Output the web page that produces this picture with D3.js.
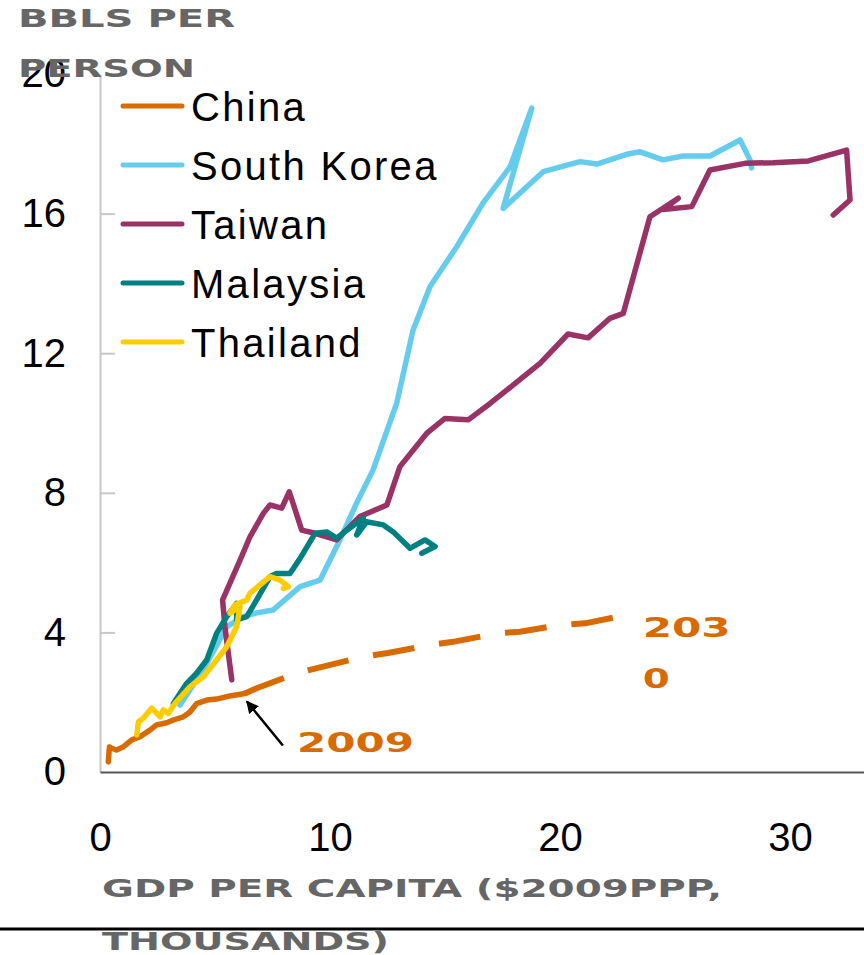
<!DOCTYPE html>
<html>
<head>
<meta charset="utf-8">
<script src="https://cdn.jsdelivr.net/npm/d3@7"></script>
<style>
  html, body { margin: 0; padding: 0; background: #fff; }
  svg { display: block; }
</style>
</head>
<body>
<div id="chart"></div>
<script>
// ---------- DATA (GDP per capita, $000 2009 PPP ; bbl per person) ----------
const seriesNames = ["China", "South Korea", "Taiwan", "Malaysia", "Thailand"];
const seriesColors = ["#D86A00", "#66CCEE", "#993366", "#008080", "#FFCC00"];

const chinaHist = [[0.36,0.29],[0.41,0.72],[0.51,0.68],[0.72,0.63],[1.01,0.72],[1.38,0.92],[1.74,1.01],[2.17,1.20],[2.46,1.35],[2.90,1.41],[3.19,1.49],[3.62,1.58],[3.91,1.72],[4.20,1.96],[4.64,2.06],[5.07,2.09],[5.65,2.18],[6.30,2.25]];
const chinaProj = [[6.30,2.25],[6.81,2.40],[8.55,2.83],[9.70,3.02],[11.43,3.30],[12.52,3.41],[14.35,3.64],[15.35,3.73],[17.25,3.97],[18.26,4.02],[20.00,4.21],[21.09,4.26],[22.90,4.50]];
const southKorea = [[3.48,1.92],[4.48,2.92],[5.13,3.70],[5.51,4.16],[6.22,4.45],[6.81,4.56],[7.52,4.64],[8.70,5.31],[9.57,5.50],[10.43,6.65],[11.16,7.71],[11.87,8.65],[12.90,10.57],[13.61,12.66],[14.35,13.91],[15.51,15.05],[16.65,16.30],[17.83,17.34],[18.77,19.02],[17.53,16.15],[19.27,17.20],[20.87,17.49],[21.60,17.42],[22.96,17.71],[23.48,17.77],[24.48,17.54],[25.35,17.65],[26.52,17.65],[27.83,18.11],[28.26,17.54],[28.33,17.31]];
const taiwan = [[5.73,2.64],[5.43,4.16],[5.33,4.93],[5.65,5.41],[6.09,6.07],[6.52,6.74],[7.10,7.41],[7.39,7.65],[7.90,7.56],[8.23,8.03],[8.77,6.93],[9.35,6.84],[10.29,6.65],[11.30,7.32],[12.47,7.65],[13.04,8.75],[14.20,9.70],[15.00,10.13],[16.01,10.09],[16.96,10.56],[17.97,11.09],[19.13,11.71],[20.35,12.55],[21.22,12.44],[22.17,13.00],[22.75,13.14],[23.91,15.91],[25.14,16.44],[24.49,16.12],[25.73,16.20],[26.52,17.25],[28.04,17.44],[29.27,17.46],[30.80,17.51],[32.46,17.82],[32.61,16.39],[31.88,15.96]];
const malaysia = [[3.19,1.96],[3.77,2.54],[4.20,2.83],[4.64,3.21],[5.07,3.97],[5.51,4.45],[5.94,4.83],[5.94,4.36],[6.38,4.45],[6.81,4.93],[7.39,5.60],[7.68,5.69],[8.26,5.69],[8.70,6.12],[9.35,6.84],[9.86,6.88],[10.29,6.70],[10.73,6.93],[11.45,7.27],[11.16,6.79],[11.59,7.17],[12.32,7.08],[12.75,6.88],[13.48,6.41],[14.13,6.65],[14.57,6.46],[13.99,6.27]];
const thailand = [[1.60,1.06],[1.67,1.44],[1.88,1.54],[2.25,1.83],[2.47,1.68],[2.61,1.58],[2.75,1.78],[2.97,1.68],[3.26,1.97],[3.91,2.44],[4.49,2.73],[5.07,3.21],[5.51,3.59],[5.94,4.16],[6.09,4.74],[5.65,4.55],[5.87,4.79],[6.38,4.93],[6.52,5.12],[7.39,5.60],[7.83,5.50],[8.19,5.31],[7.97,5.26]];

const yTicks = [0, 4, 8, 12, 16, 20];
const xTicks = [0, 10, 20, 30];
const yTitleLines = ["BBLS PER", "PERSON"];
const xTitleLines = ["GDP PER CAPITA ($2009PPP,", "THOUSANDS)"];
const startLabel = "2009";
const endLabelLines = ["203", "0"];
const annoStart = [6.3, 2.25];

// ---------- CHART ----------
const W = 864, H = 955;
const svg = d3.select("#chart").append("svg").attr("width", W).attr("height", H);

const x = d3.scaleLinear().domain([0, 33.2]).range([100, 863.6]);
const y = d3.scaleLinear().domain([0, 20]).range([772, 74]);

const numFont = "'Liberation Sans', Arial, sans-serif";
const blockFont = "'DejaVu Sans', 'Liberation Sans', sans-serif";

// y axis
const yAxis = d3.axisLeft(y).tickValues(yTicks).tickSize(-15).tickSizeOuter(0).tickPadding(34).tickFormat(d3.format("d"));
const gy = svg.append("g").attr("transform", `translate(${x(0)},0)`).call(yAxis);
gy.select(".domain").attr("stroke", "#c8c8c8").attr("stroke-width", 2);
gy.selectAll(".tick line").attr("stroke", "#c8c8c8").attr("stroke-width", 2)
  .attr("display", d => (d === 0 || d === 20) ? "none" : null);
gy.selectAll(".tick text").attr("font-family", numFont).attr("font-size", 40).attr("fill", "#000");

// x axis
const xAxis = d3.axisBottom(x).tickValues(xTicks).tickSize(0).tickSizeOuter(0).tickPadding(51).tickFormat(d3.format("d"));
const gx = svg.append("g").attr("transform", `translate(0,${y(0)})`).call(xAxis);
gx.select(".domain").attr("stroke", "#555").attr("stroke-width", 2.2);
gx.selectAll(".tick text").attr("font-family", numFont).attr("font-size", 40).attr("fill", "#000");

// lines
const line = d3.line().x(d => x(d[0])).y(d => y(d[1]));
const drawSeries = (data, color, dash) => {
  svg.append("path").datum(data).attr("d", line)
    .attr("fill", "none").attr("stroke", color).attr("stroke-width", dash ? 6 : 5.5)
    .attr("stroke-linejoin", "round").attr("stroke-linecap", dash ? "butt" : "round")
    .attr("stroke-dasharray", dash || null);
};
drawSeries(chinaHist, seriesColors[0]);
drawSeries(chinaProj, seriesColors[0], "42,25");
drawSeries(southKorea, seriesColors[1]);
drawSeries(taiwan, seriesColors[2]);
drawSeries(malaysia, seriesColors[3]);
drawSeries(thailand, seriesColors[4]);

// legend
const leg = svg.append("g");
seriesNames.forEach((name, i) => {
  const yy = 106 + i * 59;
  leg.append("line").attr("x1", 123).attr("x2", 182).attr("y1", yy).attr("y2", yy)
    .attr("stroke", seriesColors[i]).attr("stroke-width", 5).attr("stroke-linecap", "round");
  leg.append("text").attr("x", 191).attr("y", yy + 15).text(name)
    .attr("font-family", numFont).attr("font-size", 40).attr("letter-spacing", 2.3).attr("fill", "#000");
});

// titles in a blocky, heavy face
const blockText = (g, str, xx, yy, len, size, color) => {
  g.append("text").attr("x", xx).attr("y", yy).text(str)
    .attr("font-family", blockFont).attr("font-weight", "bold").attr("font-size", size)
    .attr("fill", color).attr("textLength", len).attr("lengthAdjust", "spacingAndGlyphs");
};
blockText(svg, yTitleLines[0], 18, 27, 217, 24, "#666");
blockText(svg, yTitleLines[1], 18, 77, 177, 25, "#666");

// x title + bottom rule
blockText(svg, xTitleLines[0], 102, 897, 620, 25, "#666");
svg.append("line").attr("x1", 0).attr("x2", W).attr("y1", 929).attr("y2", 929).attr("stroke", "#000").attr("stroke-width", 3);
blockText(svg, xTitleLines[1], 102, 950, 287, 24, "#666");

// annotations
svg.append("defs").append("marker").attr("id", "ah").attr("viewBox", "0 0 10 10")
  .attr("refX", 9).attr("refY", 5).attr("markerWidth", 5).attr("markerHeight", 5).attr("orient", "auto")
  .append("path").attr("d", "M0,0 L10,5 L0,10 z").attr("fill", "#000");
svg.append("line")
  .attr("x1", x(annoStart[0]) + 38).attr("y1", y(annoStart[1]) + 52)
  .attr("x2", x(annoStart[0]) + 2).attr("y2", y(annoStart[1]) + 8)
  .attr("stroke", "#000").attr("stroke-width", 2.5).attr("marker-end", "url(#ah)");
blockText(svg, startLabel, 297, 752, 117, 26, "#D86A00");
const endP = chinaProj[chinaProj.length - 1];
blockText(svg, endLabelLines[0], x(endP[0]) + 16, 637, 88, 26, "#D86A00");
blockText(svg, endLabelLines[1], x(endP[0]) + 16, 688, 27, 26, "#D86A00");
</script>
</body>
</html>
